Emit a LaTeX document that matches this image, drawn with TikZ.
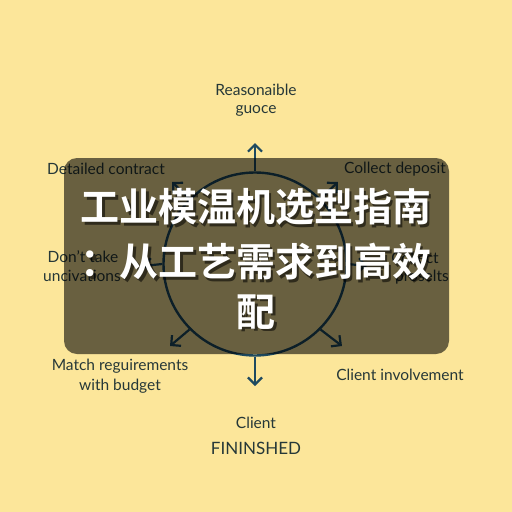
\documentclass[tikz,border=0pt]{standalone}
\usepackage{fontspec}
\setmainfont{Lato}
\newfontfamily\cjk{Noto Sans CJK SC Bold}
\usetikzlibrary{arrows.meta}
\definecolor{bg}{HTML}{FCE69A}
\definecolor{ink}{HTML}{1E4A60}
\definecolor{lbl}{HTML}{263838}
\tikzset{
  lab/.style={text=lbl, font=\fontsize{15.5}{17}\selectfont, inner sep=0pt},
  arr/.style={draw=ink, line width=2.2pt, -{Straight Barb[length=7pt,width=14pt,line width=2.2pt]}},
  ttl/.style={text=white, font=\cjk\fontsize{39}{41}\selectfont, inner sep=0pt},
  shd/.style={text=black, opacity=0.55, font=\cjk\fontsize{39}{41}\selectfont, inner sep=0pt},
}
\begin{document}
\begin{tikzpicture}[x=1pt,y=-1pt]
\fill[bg] (0,0) rectangle (512,512);
\useasboundingbox (0,0) rectangle (512,512);
% circle
\node[draw=ink, line width=2.4pt, circle, minimum size=183pt, inner sep=0pt] (c) at (255,264) {};
\coordinate (tn) at (255,143);
\coordinate (ts) at (255,386);
\coordinate (tsw) at (170,346);
\coordinate (tse) at (342,346);
\coordinate (tnw) at (172,182);
\coordinate (tne) at (338,182);
\coordinate (tw) at (143,266);
\coordinate (te) at (367,266);
\draw[arr] (c.north) -- (tn);
\draw[arr] (c.south) -- (ts);
\draw[arr] (c.south west) -- (tsw);
\draw[arr] (c.south east) -- (tse);
\draw[arr] (c.north west) -- (tnw);
\draw[arr] (c.north east) -- (tne);
\draw[arr] (c.west) -- (tw);
\draw[arr] (c.east) -- (te);
% labels
\node[lab] (l1a) at (256,90) {Reasonaible};
\node[lab] (l1b) at (256,111) {guoce};
\node[lab] (l2) at (106,169) {Detailed contract};
\node[lab] (l3) at (395,169) {Collect deposit};
\node[lab] (l4a) at (83,257) {Don't take};
\node[lab] (l4b) at (82,276) {uncivations};
\node[lab] (l5a) at (415,258) {Collect};
\node[lab] (l5b) at (422,277) {proselts};
\node[lab] (l6a) at (120,366) {Match reguirements};
\node[lab] (l6b) at (120,386) {with budget};
\node[lab] (l7) at (400,375) {Client involvement};
\node[lab] (l8a) at (256,423) {Client};
\node[lab, font=\fontsize{17}{19}\selectfont] (l8b) at (256,448) {FININSHED};
% overlay
\fill[black, opacity=0.58, rounded corners=13pt] (64,158) rectangle (449,354);
% title
\node[shd] (s1) at (258.5,209.5) {工业模温机选型指南};
\node[shd] (s2) at (258.5,264.5) {：从工艺需求到高效};
\node[shd] (s3) at (258.5,314.5) {配};
\node[ttl] (t1) at (256,207) {工业模温机选型指南};
\node[ttl] (t2) at (256,262) {：从工艺需求到高效};
\node[ttl] (t3) at (256,312) {配};
\end{tikzpicture}
\end{document}
